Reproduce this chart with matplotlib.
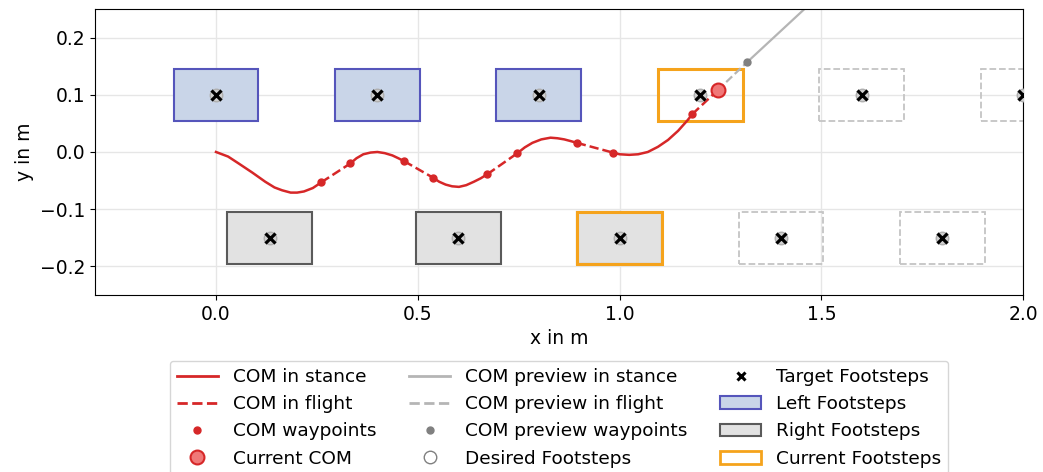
import matplotlib
matplotlib.use("Agg")
import matplotlib.pyplot as plt
from matplotlib.patches import Rectangle, Patch
from matplotlib.lines import Line2D

# footsteps (center positions in m)
left_x = [0.0, 0.4, 0.8]
left_y = [0.1, 0.1, 0.1]
right_x = [0.133, 0.6, 1.0]
right_y = [-0.15, -0.15, -0.15]
current_x = [1.0, 1.2]
current_y = [-0.15, 0.1]
desired_x = [0.0, 0.133, 0.4, 0.6, 0.8, 1.0, 1.2, 1.4, 1.6, 1.8, 2.0]
desired_y = [0.1, -0.15, 0.1, -0.15, 0.1, -0.15, 0.1, -0.15, 0.1, -0.15, 0.1]
preview_rect_x = [1.2, 1.4, 1.6, 1.8, 2.0]
preview_rect_y = [0.1, -0.15, 0.1, -0.15, 0.1]
foot_len = 0.21
foot_wid = 0.09

# COM stance segments
stance_segments = [
    ([0.0, 0.03, 0.056, 0.09, 0.122, 0.145, 0.164, 0.185, 0.201, 0.218, 0.24, 0.261],
     [0.0, -0.008, -0.020, -0.036, -0.052, -0.062, -0.067, -0.071, -0.071, -0.069, -0.063, -0.053]),
    ([0.333, 0.348, 0.365, 0.383, 0.4, 0.418, 0.437, 0.452, 0.466],
     [-0.020, -0.011, -0.004, -0.001, 0.0, -0.002, -0.006, -0.011, -0.016]),
    ([0.538, 0.553, 0.569, 0.585, 0.602, 0.62, 0.639, 0.656, 0.672],
     [-0.045, -0.052, -0.057, -0.060, -0.061, -0.058, -0.052, -0.046, -0.039]),
    ([0.747, 0.765, 0.784, 0.806, 0.829, 0.846, 0.863, 0.879, 0.894],
     [-0.002, 0.008, 0.016, 0.022, 0.025, 0.024, 0.022, 0.019, 0.016]),
    ([0.983, 1.0, 1.024, 1.046, 1.07, 1.095, 1.12, 1.145, 1.169, 1.18],
     [-0.001, -0.004, -0.005, -0.004, 0.0, 0.009, 0.021, 0.037, 0.056, 0.066]),
]

# COM waypoints (flight phases go between pairs)
way_x = [0.261, 0.333, 0.466, 0.538, 0.672, 0.747, 0.894, 0.983, 1.18]
way_y = [-0.053, -0.020, -0.016, -0.045, -0.039, -0.002, 0.016, -0.001, 0.066]

current_com = (1.243, 0.108)

# preview
prev_way_x = [1.316]
prev_way_y = [0.157]
prev_stance_x = [1.316, 1.55]
prev_stance_y = [0.157, 0.31]

red = "#d62728"
left_face = "#c9d5e8"
left_edge = "#5555bb"
right_face = "#e2e2e2"
right_edge = "#5a5a5a"
orange = "#f5a31c"
fs = 13.5

fig, ax = plt.subplots(figsize=(10.43, 4.72), dpi=100)
fig.subplots_adjust(left=0.091, right=0.981, top=0.981, bottom=0.375)

for x, y in zip(preview_rect_x, preview_rect_y):
    ax.add_patch(Rectangle((x - foot_len / 2, y - foot_wid / 2), foot_len, foot_wid,
                           facecolor="none", edgecolor="#c4c4c4", linestyle="--", lw=1.3))
for x, y in zip(left_x, left_y):
    ax.add_patch(Rectangle((x - foot_len / 2, y - foot_wid / 2), foot_len, foot_wid,
                           facecolor=left_face, edgecolor=left_edge, lw=1.5))
for x, y in zip(right_x, right_y):
    ax.add_patch(Rectangle((x - foot_len / 2, y - foot_wid / 2), foot_len, foot_wid,
                           facecolor=right_face, edgecolor=right_edge, lw=1.5))
for x, y in zip(current_x, current_y):
    ax.add_patch(Rectangle((x - foot_len / 2, y - foot_wid / 2), foot_len, foot_wid,
                           facecolor="none", edgecolor=orange, lw=2.2))

# COM trajectory
for sx, sy in stance_segments:
    ax.plot(sx, sy, color=red, lw=1.8, zorder=3)
for i in range(0, len(way_x) - 1, 2):
    ax.plot(way_x[i:i + 2], way_y[i:i + 2], color=red, lw=1.8, ls="--", zorder=3)
ax.plot([way_x[-1], current_com[0]], [way_y[-1], current_com[1]], color=red, lw=1.8, ls="--", zorder=3)
ax.plot(way_x, way_y, "o", color=red, ms=5, ls="none", zorder=4)

# preview
ax.plot([current_com[0], prev_way_x[0]], [current_com[1], prev_way_y[0]], color="#b5b5b5", lw=1.6, ls="--", zorder=2)
ax.plot(prev_stance_x, prev_stance_y, color="#b5b5b5", lw=1.6, zorder=2)
ax.plot(prev_way_x, prev_way_y, "o", color="gray", ms=5, ls="none", zorder=4)

# footstep markers
ax.plot(desired_x, desired_y, "o", mfc="#d0d0d0", mec="#b0b0b0", ms=9, ls="none", zorder=4)
ax.plot(desired_x, desired_y, "x", color="black", ms=6.5, mew=2.3, ls="none", zorder=5)

ax.plot(*current_com, "o", mfc="#f07878", mec=red, mew=1.5, ms=10, zorder=6)

ax.set_xlim(-0.3, 2.0)
ax.set_ylim(-0.25, 0.25)
ax.set_xticks([0.0, 0.5, 1.0, 1.5, 2.0])
ax.set_yticks([-0.2, -0.1, 0.0, 0.1, 0.2])
ax.tick_params(labelsize=fs)
ax.set_xlabel("x in m", fontsize=fs)
ax.set_ylabel("y in m", fontsize=fs)
ax.grid(True, color="#e6e6e6", lw=1)
ax.set_axisbelow(True)

handles = [
    Line2D([], [], color=red, lw=2, label="COM in stance"),
    Line2D([], [], color=red, lw=2, ls="--", label="COM in flight"),
    Line2D([], [], color=red, marker="o", ms=5, ls="none", label="COM waypoints"),
    Line2D([], [], marker="o", mfc="#f07878", mec=red, mew=1.5, ms=10, ls="none", label="Current COM"),
    Line2D([], [], color="#b5b5b5", lw=2, label="COM preview in stance"),
    Line2D([], [], color="#b5b5b5", lw=2, ls="--", label="COM preview in flight"),
    Line2D([], [], color="gray", marker="o", ms=5, ls="none", label="COM preview waypoints"),
    Line2D([], [], marker="o", mfc="none", mec="gray", ms=9, ls="none", label="Desired Footsteps"),
    Line2D([], [], color="black", marker="x", ms=6, mew=2.2, ls="none", label="Target Footsteps"),
    Patch(facecolor=left_face, edgecolor=left_edge, lw=1.5, label="Left Footsteps"),
    Patch(facecolor=right_face, edgecolor=right_edge, lw=1.5, label="Right Footsteps"),
    Patch(facecolor="none", edgecolor=orange, lw=2, label="Current Footsteps"),
]
ax.legend(handles=handles, loc="upper center", bbox_to_anchor=(0.5, -0.197), ncol=3,
          fontsize=13.3, frameon=True, handlelength=2.2, columnspacing=1.8)

plt.savefig("out.png")
